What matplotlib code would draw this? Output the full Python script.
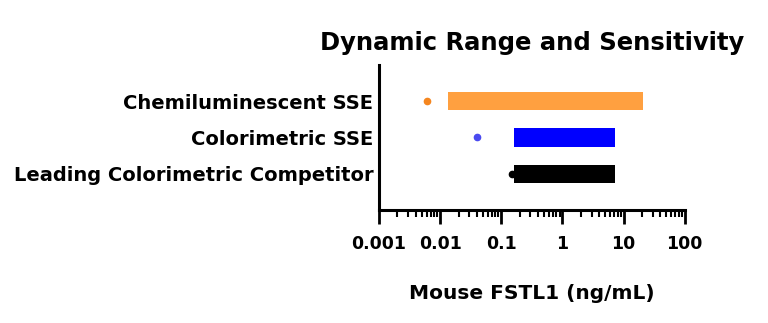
import matplotlib.pyplot as plt
import matplotlib.ticker as mticker

categories = ["Chemiluminescent SSE", "Colorimetric SSE", "Leading Colorimetric Competitor"]
range_low = [0.0137, 0.16, 0.16]
range_high = [21.0, 7.2, 7.2]
sensitivity = [0.0062, 0.040, 0.15]
bar_colors = ["#FFA040", "#0000FF", "#000000"]
dot_colors = ["#F5861F", "#4A4AF0", "#000000"]
tick_vals = [0.001, 0.01, 0.1, 1, 10, 100]
tick_labels = ["0.001", "0.01", "0.1", "1", "10", "100"]

plt.rcParams["font.family"] = ["DejaVu Sans"]

fig = plt.figure(figsize=(7.68, 3.23), dpi=100)
ax = fig.add_axes([0.4935, 0.35, 0.398, 0.449])

ypos = [3, 2, 1]
for y, lo, hi, s, bc, dc in zip(ypos, range_low, range_high, sensitivity, bar_colors, dot_colors):
    ax.barh(y, hi - lo, left=lo, height=0.5, color=bc, zorder=2)
    ax.plot(s, y, "o", color=dc, markersize=4.5, zorder=3)

ax.set_xscale("log")
ax.set_xlim(0.001, 100)
ax.set_ylim(0, 4)
ax.set_xticks(tick_vals)
ax.set_xticklabels(tick_labels, fontsize=12.5, fontweight="bold")
ax.xaxis.set_minor_locator(mticker.LogLocator(base=10, subs=range(2, 10), numticks=20))
ax.xaxis.set_minor_formatter(mticker.NullFormatter())
ax.set_yticks(ypos)
ax.set_yticklabels(categories, fontsize=14, fontweight="bold")
ax.tick_params(axis="y", length=0, pad=4)
ax.tick_params(axis="x", which="major", length=10, width=2, pad=8)
ax.tick_params(axis="x", which="minor", length=5, width=1.5)

for side in ["top", "right"]:
    ax.spines[side].set_visible(False)
for side in ["left", "bottom"]:
    ax.spines[side].set_linewidth(2.2)

ax.set_title("Dynamic Range and Sensitivity", fontsize=17.5, fontweight="bold", pad=11)
ax.set_xlabel("Mouse FSTL1 (ng/mL)", fontsize=14.5, fontweight="bold", labelpad=22)

fig.savefig("out.png", dpi=100)
